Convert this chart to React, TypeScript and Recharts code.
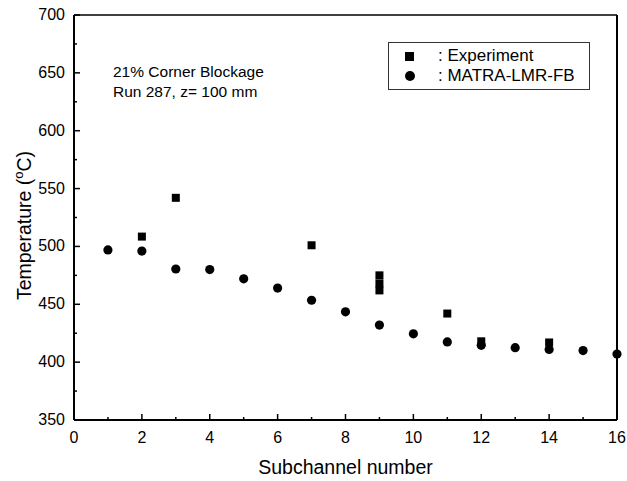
import { ScatterChart, Scatter, XAxis, YAxis, Legend, Label } from "recharts";

// values
const channelTicks = [0, 1, 2, 3, 4, 5, 6, 7, 8, 9, 10, 11, 12, 13, 14, 15, 16];
const tempTicks = [350, 375, 400, 425, 450, 475, 500, 525, 550, 575, 600, 625, 650, 675, 700];

const matraChannel = [1, 2, 3, 4, 5, 6, 7, 8, 9, 10, 11, 12, 13, 14, 15, 16];
const matraTemp = [497, 496, 480.5, 480, 472, 464, 453.5, 443.5, 432, 424.5, 417.5, 414.5, 412.5, 411, 410, 407];

const expChannel = [2, 3, 7, 9, 9, 9, 11, 12, 14];
const expTemp = [508.5, 542, 501, 475, 468, 462, 442, 418, 417];

const matraData = matraChannel.map((x, i) => ({ x, y: matraTemp[i] }));
const expData = expChannel.map((x, i) => ({ x, y: expTemp[i] }));

const FONT = "'Liberation Sans', Arial, sans-serif";

function BottomTick(props: any) {
  const { x, y, payload } = props;
  const major = payload.value % 2 === 0;
  return (
    <g>
      <line x1={x} x2={x} y1={y} y2={y - (major ? 6 : 3)} stroke="#000" strokeWidth={1.5} />
      {major && (
        <text x={x} y={y + 23} textAnchor="middle" fontSize={16} fontFamily={FONT} fill="#000">
          {payload.value}
        </text>
      )}
    </g>
  );
}

function TopTick(props: any) {
  const { x, y, payload } = props;
  const major = payload.value % 2 === 0;
  return <line x1={x} x2={x} y1={y} y2={y + (major ? 6 : 3)} stroke="#000" strokeWidth={1.5} />;
}

function LeftTick(props: any) {
  const { x, y, payload } = props;
  const major = payload.value % 50 === 0;
  return (
    <g>
      <line x1={x} x2={x + (major ? 6 : 3)} y1={y} y2={y} stroke="#000" strokeWidth={1.5} />
      {major && (
        <text x={x - 9} y={y + 5} textAnchor="end" fontSize={16} fontFamily={FONT} fill="#000">
          {payload.value}
        </text>
      )}
    </g>
  );
}

function RightTick(props: any) {
  const { x, y, payload } = props;
  const major = payload.value % 50 === 0;
  return <line x1={x} x2={x - (major ? 6 : 3)} y1={y} y2={y} stroke="#000" strokeWidth={1.5} />;
}

function SquareDot(props: any) {
  const { cx, cy } = props;
  return <rect x={cx - 4} y={cy - 4} width={8} height={8} fill="#000" />;
}

function CircleDot(props: any) {
  const { cx, cy } = props;
  return <circle cx={cx} cy={cy} r={4.6} fill="#000" />;
}

function LegendBox() {
  return (
    <div
      style={{
        border: "1px solid #333",
        background: "#fff",
        fontFamily: FONT,
        fontSize: 17,
        color: "#000",
        padding: "3px 0 0 16px",
        boxSizing: "border-box",
        width: 202,
        height: 48,
        lineHeight: "20px",
      }}
    >
      <div style={{ display: "flex", alignItems: "center" }}>
        <span style={{ display: "inline-block", width: 9, height: 9, background: "#000", marginRight: 24 }} />
        <span>: Experiment</span>
      </div>
      <div style={{ display: "flex", alignItems: "center" }}>
        <span
          style={{ display: "inline-block", width: 10, height: 10, borderRadius: 5, background: "#000", marginRight: 23 }}
        />
        <span>: MATRA-LMR-FB</span>
      </div>
    </div>
  );
}

export default function App() {
  return (
    <div style={{ position: "absolute", left: 0, top: 0, width: 627, height: 481, background: "#fff" }}>
      <ScatterChart width={627} height={481} margin={{ top: 14, right: 0, bottom: 31, left: 14 }}>
        <XAxis
          xAxisId="bottom"
          type="number"
          dataKey="x"
          domain={[0, 16]}
          ticks={channelTicks}
          interval={0}
          height={30}
          tickSize={0}
          tickMargin={0}
          tickLine={false}
          tick={BottomTick}
          axisLine={{ stroke: "#000", strokeWidth: 2 }}
        >
          <Label
            content={(p: any) => (
              <text
                x={p.viewBox.x + p.viewBox.width / 2}
                y={p.viewBox.y + 54}
                textAnchor="middle"
                fontSize={19.5}
                fontFamily={FONT}
                fill="#000"
              >
                Subchannel number
              </text>
            )}
          />
        </XAxis>
        <XAxis
          xAxisId="top"
          orientation="top"
          type="number"
          dataKey="x"
          domain={[0, 16]}
          ticks={channelTicks}
          interval={0}
          height={1}
          tickSize={0}
          tickMargin={0}
          tickLine={false}
          tick={TopTick}
          axisLine={{ stroke: "#000", strokeWidth: 1.5 }}
        />
        <YAxis
          yAxisId="left"
          type="number"
          dataKey="y"
          domain={[350, 700]}
          ticks={tempTicks}
          interval={0}
          width={60}
          tickSize={0}
          tickMargin={0}
          tickLine={false}
          tick={LeftTick}
          axisLine={{ stroke: "#000", strokeWidth: 2 }}
        >
          <Label
            content={(p: any) => {
              const cx = 31;
              const cy = p.viewBox.y + p.viewBox.height / 2 + 8;
              return (
                <text
                  x={cx}
                  y={cy}
                  transform={`rotate(-90 ${cx} ${cy})`}
                  textAnchor="middle"
                  fontSize={19.5}
                  fontFamily={FONT}
                  fill="#000"
                >
                  Temperature (
                  <tspan fontSize={13} dy={-8}>
                    o
                  </tspan>
                  <tspan dy={8}>C)</tspan>
                </text>
              );
            }}
          />
        </YAxis>
        <YAxis
          yAxisId="right"
          orientation="right"
          type="number"
          dataKey="y"
          domain={[350, 700]}
          ticks={tempTicks}
          interval={0}
          width={10}
          tickSize={0}
          tickMargin={0}
          tickLine={false}
          tick={RightTick}
          axisLine={{ stroke: "#000", strokeWidth: 2 }}
        />
        <Legend
          layout="vertical"
          align="center"
          verticalAlign="middle"
          wrapperStyle={{ position: "absolute", left: 388, top: 42, width: 202, height: 48 }}
          content={() => <LegendBox />}
        />
        <Scatter
          name="Experiment"
          data={expData}
          xAxisId="bottom"
          yAxisId="left"
          fill="#000"
          shape={SquareDot}
          isAnimationActive={false}
        />
        <Scatter
          name="MATRA-LMR-FB"
          data={matraData}
          xAxisId="bottom"
          yAxisId="left"
          fill="#000"
          shape={CircleDot}
          isAnimationActive={false}
        />
      </ScatterChart>
      <div
        style={{
          position: "absolute",
          left: 113,
          top: 62,
          fontFamily: FONT,
          fontSize: 15.5,
          lineHeight: "20px",
          color: "#000",
          whiteSpace: "nowrap",
        }}
      >
        <div>21% Corner Blockage</div>
        <div>Run 287, z= 100 mm</div>
      </div>
    </div>
  );
}
